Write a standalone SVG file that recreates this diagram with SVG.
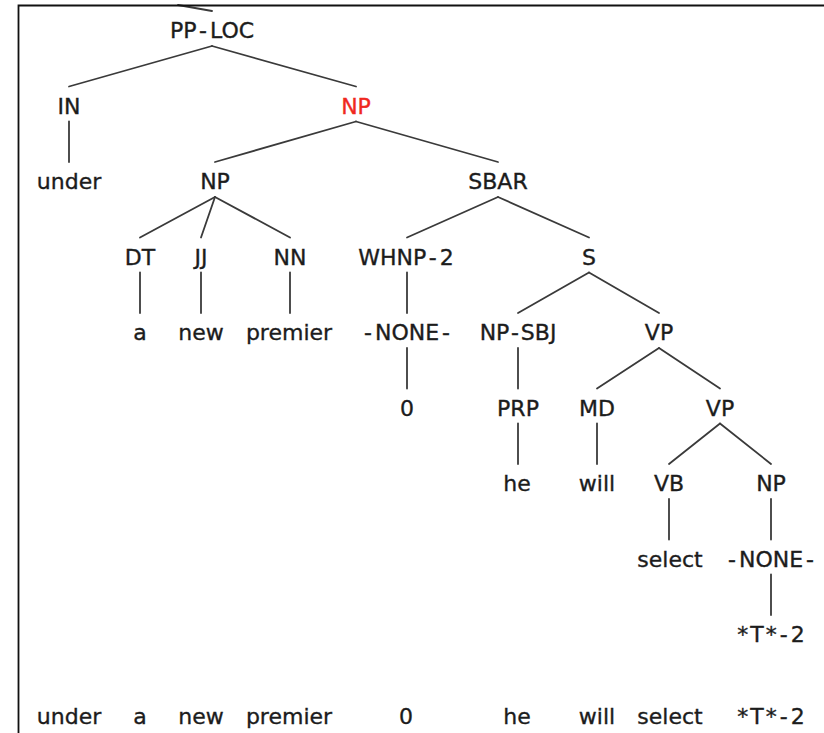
<svg xmlns="http://www.w3.org/2000/svg" width="824" height="733" viewBox="0 0 824 733">
  <style>
    text { font-family: "DejaVu Sans", "Liberation Sans", sans-serif; font-size: 22px; fill: #1c1c1c; stroke: #1c1c1c; stroke-width: 0.35; text-anchor: middle; }
    .focus text { fill: #f0281e; stroke: #f0281e; }
    .edges line { stroke: #3a3a3a; stroke-width: 1.8; stroke-linecap: round; }
    .frame { fill: none; stroke: #111; stroke-width: 1.8; }
  </style>
  <rect width="824" height="733" fill="#fff"/>

  <!-- tree edges: parent point sits 8px under its label baseline, child point 27px above its baseline -->
  <g class="edges" id="edges">
    <line x1="212" y1="11" x2="178" y2="5"/>
    <line x1="212" y1="46" x2="69" y2="86.5"/>
    <line x1="212" y1="46" x2="356" y2="86.5"/>
    <line x1="69" y1="121.5" x2="69" y2="162"/>
    <line x1="356" y1="121.5" x2="215" y2="162"/>
    <line x1="356" y1="121.5" x2="498" y2="162"/>
    <line x1="215" y1="197" x2="140" y2="237.5"/>
    <line x1="215" y1="197" x2="201" y2="237.5"/>
    <line x1="215" y1="197" x2="290" y2="237.5"/>
    <line x1="498" y1="197" x2="407" y2="237.5"/>
    <line x1="498" y1="197" x2="589" y2="237.5"/>
    <line x1="140" y1="272.5" x2="140" y2="313"/>
    <line x1="201" y1="272.5" x2="201" y2="313"/>
    <line x1="290" y1="272.5" x2="290" y2="313"/>
    <line x1="407" y1="272.5" x2="407" y2="313"/>
    <line x1="589" y1="272.5" x2="518" y2="313"/>
    <line x1="589" y1="272.5" x2="659" y2="313"/>
    <line x1="407" y1="348" x2="407" y2="388.5"/>
    <line x1="518" y1="348" x2="518" y2="388.5"/>
    <line x1="659" y1="348" x2="597" y2="388.5"/>
    <line x1="659" y1="348" x2="720" y2="388.5"/>
    <line x1="518" y1="423.5" x2="518" y2="464"/>
    <line x1="597" y1="423.5" x2="597" y2="464"/>
    <line x1="720" y1="423.5" x2="669" y2="464"/>
    <line x1="720" y1="423.5" x2="771" y2="464"/>
    <line x1="669" y1="499" x2="669" y2="539.5"/>
    <line x1="771" y1="499" x2="771" y2="539.5"/>
    <line x1="771" y1="574.5" x2="771" y2="615"/>
  </g>

  <!-- tree nodes; hyphens get a little extra room on each side -->
  <g id="n-pploc"><text x="212" y="38">PP<tspan dx="3">-</tspan><tspan dx="3">LOC</tspan></text></g>
  <g id="n-in"><text x="69" y="113.5">IN</text></g>
  <g id="n-np1" class="focus"><text x="356" y="113.5">NP</text></g>
  <g id="n-under"><text x="69" y="189">under</text></g>
  <g id="n-np2"><text x="215" y="189">NP</text></g>
  <g id="n-sbar"><text x="498" y="189">SBAR</text></g>
  <g id="n-dt"><text x="140" y="264.5">DT</text></g>
  <g id="n-jj"><text x="201" y="264.5">JJ</text></g>
  <g id="n-nn"><text x="290" y="264.5">NN</text></g>
  <g id="n-whnp"><text x="406" y="264.5">WHNP<tspan dx="3">-</tspan><tspan dx="3">2</tspan></text></g>
  <g id="n-s"><text x="589" y="264.5">S</text></g>
  <g id="n-a"><text x="140" y="340">a</text></g>
  <g id="n-new"><text x="201" y="340">new</text></g>
  <g id="n-premier"><text x="289" y="340">premier</text></g>
  <g id="n-none1"><text x="407" y="340">-<tspan dx="3">NONE</tspan><tspan dx="3">-</tspan></text></g>
  <g id="n-npsbj"><text x="518" y="340">NP<tspan dx="2">-</tspan><tspan dx="2">SBJ</tspan></text></g>
  <g id="n-vp1"><text x="659" y="340">VP</text></g>
  <g id="n-zero"><text x="407" y="415.5">0</text></g>
  <g id="n-prp"><text x="518" y="415.5">PRP</text></g>
  <g id="n-md"><text x="597" y="415.5">MD</text></g>
  <g id="n-vp2"><text x="720" y="415.5">VP</text></g>
  <g id="n-he"><text x="517" y="491">he</text></g>
  <g id="n-will"><text x="597" y="491">will</text></g>
  <g id="n-vb"><text x="669" y="491">VB</text></g>
  <g id="n-np3"><text x="771" y="491">NP</text></g>
  <g id="n-select"><text x="670" y="566.5">select</text></g>
  <g id="n-none2"><text x="771" y="566.5">-<tspan dx="3">NONE</tspan><tspan dx="3">-</tspan></text></g>
  <g id="n-trace"><text x="771" y="642">*<tspan dx="2">T</tspan><tspan dx="2">*</tspan><tspan dx="3">-</tspan><tspan dx="3">2</tspan></text></g>

  <!-- sentence yield along the bottom -->
  <g id="yield">
    <text x="69" y="724">under</text>
    <text x="140" y="724">a</text>
    <text x="201" y="724">new</text>
    <text x="289" y="724">premier</text>
    <text x="406" y="724">0</text>
    <text x="517" y="724">he</text>
    <text x="597" y="724">will</text>
    <text x="670" y="724">select</text>
    <text x="771" y="724">*<tspan dx="2">T</tspan><tspan dx="2">*</tspan><tspan dx="3">-</tspan><tspan dx="3">2</tspan></text>
  </g>

  <!-- viewport frame -->
  <path class="frame" d="M18.5,733 V5.5 H824"/>
</svg>
